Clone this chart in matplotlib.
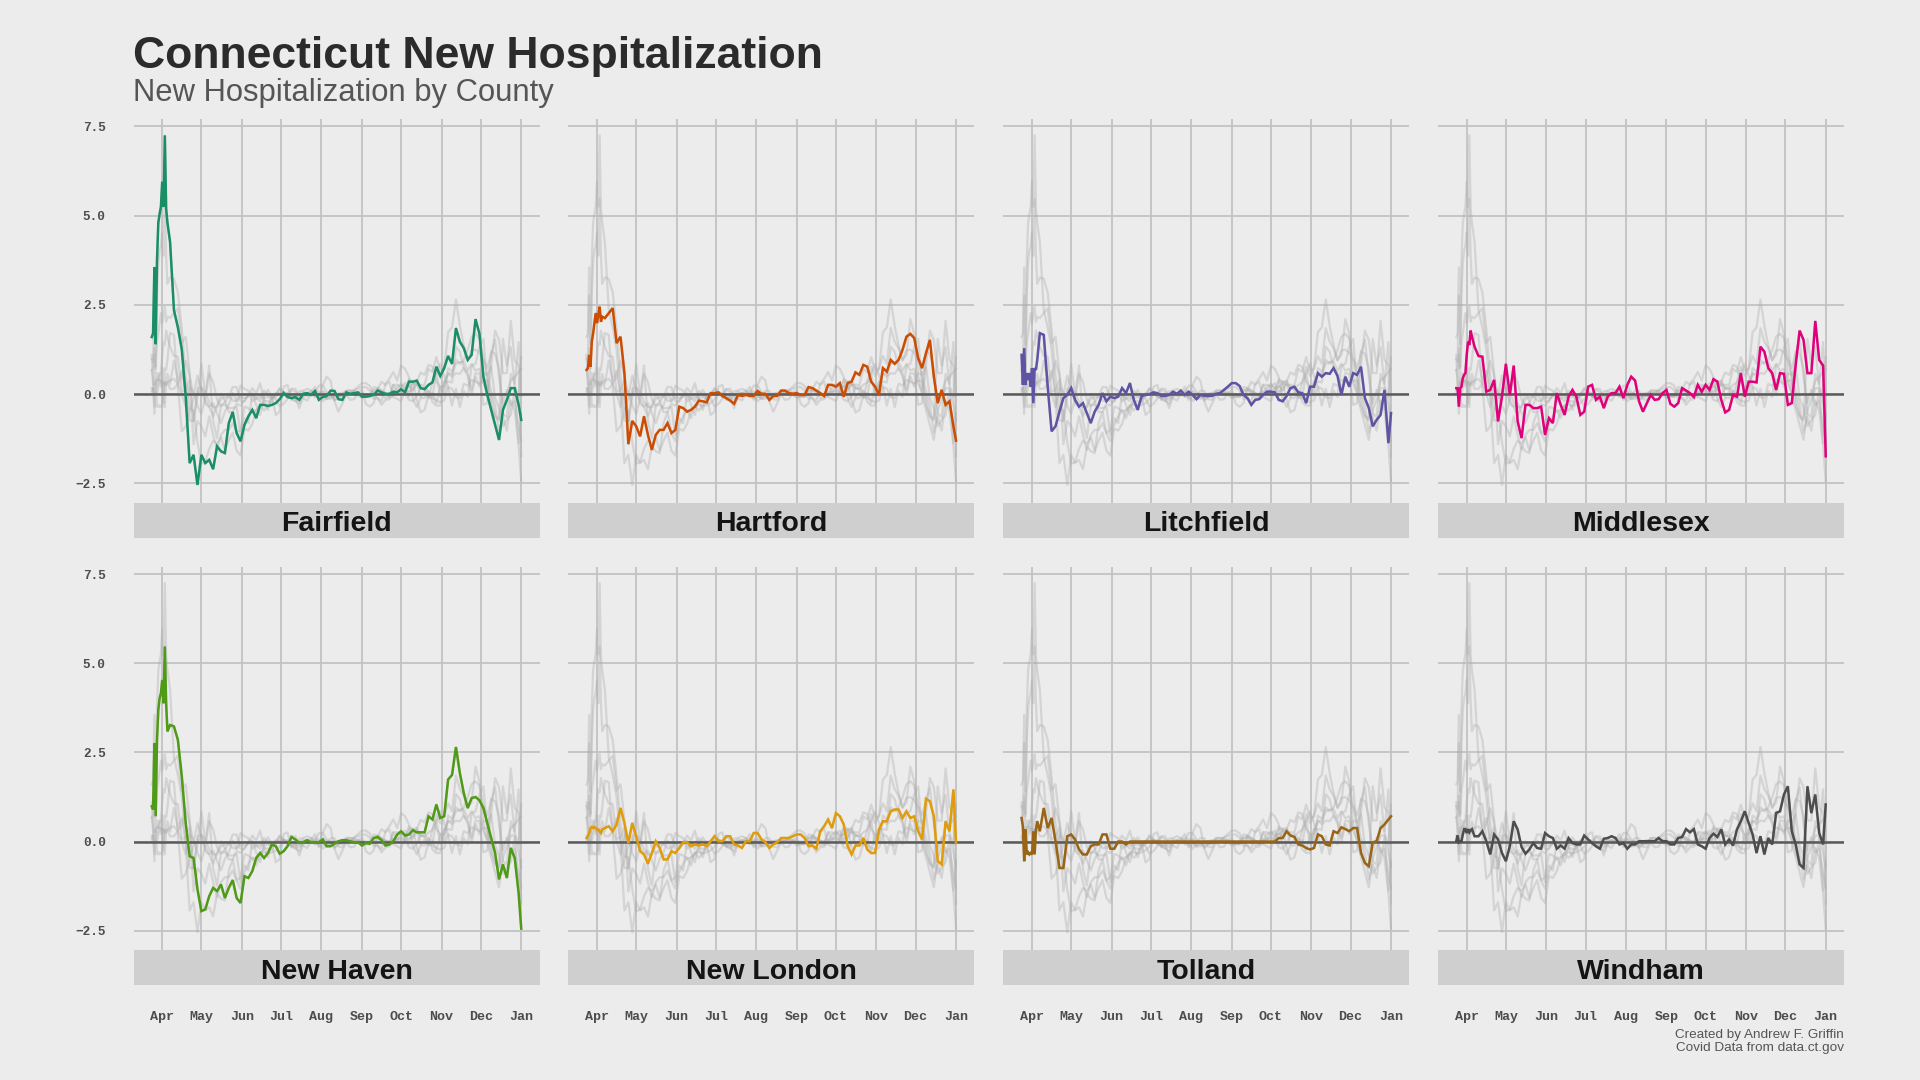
import matplotlib
matplotlib.use("Agg")
import matplotlib.pyplot as plt
import pandas as pd
from matplotlib.patches import Rectangle

days = [0,1,2,3,4,5,6,7,8,9,10,11,12,
        14,17,20,23,26,29,32,35,38,41,
        44,47,50,53,56,59,62,65,68,71,
        74,77,80,83,86,89,92,95,98,101,
        104,107,110,113,116,119,122,125,128,131,
        134,137,140,143,146,149,152,155,158,161,
        164,167,170,173,176,179,182,185,188,191,
        194,197,200,203,206,209,212,215,218,221,
        224,227,230,233,236,239,242,245,248,251,
        254,257,260,263,266,269,272,275,278,281,
        283]

fairfield = [1.6,1.7,3.55,1.4,3.75,4.8,5.05,5.25,5.95,5.25,7.25,5.2,4.8,
    4.27,2.35,1.87,1.25,-0.07,-1.93,-1.7,-2.54,-1.7,-1.93,
    -1.84,-2.1,-1.46,-1.6,-1.65,-0.81,-0.5,-1.09,-1.32,-0.86,
    -0.62,-0.44,-0.67,-0.3,-0.3,-0.33,-0.3,-0.25,-0.14,0.03,
    -0.08,-0.11,-0.08,-0.16,0.01,0.03,-0.02,0.09,-0.16,-0.08,
    -0.05,0.1,0.09,-0.14,-0.16,0.05,0.01,0.03,0.05,-0.07,
    -0.07,-0.05,-0.02,0.1,0.05,0.01,0.01,0.07,0.05,0.14,
    0.05,0.35,0.35,0.38,0.17,0.14,0.26,0.33,0.77,0.51,
    0.73,1.07,0.85,1.85,1.47,1.29,0.96,1.1,2.1,1.69,
    0.5,-0.02,-0.44,-0.86,-1.28,-0.44,-0.16,0.17,0.17,-0.3,
    -0.72]
hartford = [0.68,0.73,1.1,0.77,1.47,1.7,1.99,2.27,1.99,2.22,2.45,2.03,2.17,
    2.13,2.27,2.41,1.43,1.61,0.59,-1.4,-0.75,-0.9,-1.18,
    -0.62,-1.14,-1.56,-1.14,-1.0,-1.0,-0.81,-1.09,-1.0,-0.35,
    -0.39,-0.49,-0.44,-0.35,-0.18,-0.2,-0.23,0.03,0.03,0.05,
    -0.05,-0.11,-0.18,-0.27,-0.02,-0.05,-0.02,-0.05,-0.05,0.09,
    0.01,0.01,-0.16,-0.05,-0.05,0.1,0.1,0.03,0.01,0.03,
    -0.02,-0.02,0.2,0.17,0.1,0.03,-0.05,0.26,0.26,0.21,
    0.31,-0.07,0.31,0.35,0.61,0.54,0.82,0.77,0.35,0.21,
    -0.02,0.73,0.63,0.96,0.85,0.96,1.24,1.61,1.69,1.57,
    1.01,0.73,1.15,1.52,0.49,-0.25,0.12,-0.3,-0.2,-0.9,
    -1.3]
litchfield = [1.1,0.26,1.29,0.26,0.59,0.4,0.59,0.21,0.73,-0.25,0.73,0.68,0.96,
    1.71,1.66,0.21,-1.04,-0.9,-0.49,-0.11,-0.02,0.17,-0.16,
    -0.35,-0.25,-0.53,-0.81,-0.49,-0.3,0.03,-0.2,-0.07,-0.11,
    -0.07,0.17,0.03,0.31,-0.16,-0.44,-0.05,-0.02,0.0,0.05,
    0.03,-0.05,-0.05,-0.02,0.07,0.01,0.1,-0.02,0.07,-0.02,
    -0.14,-0.02,-0.05,-0.05,-0.05,0.01,0.03,0.12,0.21,0.31,
    0.31,0.23,-0.02,-0.11,-0.3,-0.16,-0.14,-0.02,0.07,0.07,
    0.05,-0.16,-0.2,-0.05,0.17,0.21,0.05,0.03,-0.25,0.21,
    0.21,0.59,0.49,0.59,0.57,0.73,0.51,-0.02,0.49,0.21,
    0.59,0.54,0.77,-0.11,-0.39,-0.9,-0.72,-0.58,0.12,-1.37,
    -0.53]
middlesex = [0.17,0.17,-0.35,0.17,0.21,0.45,0.54,0.59,1.1,1.47,1.38,1.78,1.61,
    1.33,1.07,1.05,0.07,0.12,0.4,-0.76,-0.07,0.85,-0.02,
    0.8,-0.76,-1.23,-0.3,-0.3,-0.39,-0.39,-0.35,-1.14,-0.67,
    -0.81,0.03,-0.3,-0.58,-0.07,0.12,-0.07,-0.58,-0.49,0.21,
    0.26,-0.16,-0.07,-0.39,-0.07,0.03,0.03,0.21,-0.11,0.26,
    0.49,0.38,-0.2,-0.49,-0.25,-0.02,-0.16,-0.14,0.03,0.12,
    -0.27,-0.35,-0.25,0.17,0.1,0.03,-0.08,0.26,0.07,0.26,
    0.12,0.42,0.35,-0.16,-0.51,-0.44,-0.02,-0.07,0.59,-0.07,
    0.35,0.35,0.33,1.33,1.19,0.73,0.59,0.12,0.59,0.57,
    -0.3,-0.25,0.82,1.78,1.52,0.59,0.59,2.05,0.96,0.8,
    -1.74]
new_haven = [0.99,0.9,2.76,0.71,2.85,3.69,4.02,4.16,4.53,3.88,5.47,3.88,3.09,
    3.27,3.23,2.85,1.83,0.52,-0.41,-0.46,-1.34,-1.95,-1.9,
    -1.53,-1.3,-1.39,-1.2,-1.58,-1.3,-1.08,-1.58,-1.72,-0.97,
    -1.02,-0.83,-0.46,-0.32,-0.46,-0.32,-0.08,-0.13,-0.34,-0.27,
    -0.13,0.13,0.06,-0.04,-0.02,0.04,-0.02,-0.02,-0.02,0.06,
    -0.13,-0.13,-0.06,0.01,0.04,0.04,0.01,-0.02,-0.02,-0.11,
    -0.04,-0.06,0.1,0.13,0.04,-0.11,-0.08,0.01,0.2,0.29,
    0.17,0.2,0.32,0.26,0.26,0.26,0.71,0.62,1.04,0.66,
    0.71,1.74,1.87,2.65,1.92,1.36,0.94,1.22,1.25,1.16,
    0.94,0.52,0.1,-0.32,-1.06,-0.64,-1.02,-0.18,-0.46,-1.44,
    -2.44]
new_london = [0.1,0.15,0.24,0.38,0.41,0.38,0.41,0.38,0.34,0.34,0.29,0.24,0.34,
    0.38,0.43,0.29,0.48,0.94,0.52,-0.04,0.52,0.15,-0.27,
    -0.36,-0.62,-0.32,0.01,-0.18,-0.5,-0.5,-0.27,-0.32,-0.18,
    -0.02,-0.02,-0.13,-0.08,-0.11,-0.08,-0.13,0.01,0.15,0.01,
    0.01,0.15,0.15,-0.08,-0.11,-0.18,0.01,0.01,0.24,0.24,
    0.06,-0.02,-0.18,-0.08,-0.02,0.1,0.1,0.1,0.15,0.2,
    0.2,0.1,-0.13,-0.11,-0.2,0.29,0.43,0.62,0.38,0.8,
    0.71,0.48,-0.13,-0.36,-0.11,-0.11,0.1,-0.22,-0.32,-0.32,
    0.34,0.57,0.57,0.85,0.9,0.9,0.66,0.85,0.66,0.71,
    0.29,0.06,1.2,1.13,0.71,-0.55,-0.64,0.57,0.29,1.46,
    -0.04]
tolland = [0.66,0.43,-0.55,0.34,-0.36,-0.3,-0.36,-0.32,-0.36,0.29,-0.36,0.34,0.57,
    0.29,0.94,0.38,0.66,0.01,-0.74,-0.74,0.15,0.2,0.06,
    -0.22,-0.36,-0.36,-0.13,-0.08,-0.08,0.2,0.2,-0.2,-0.2,
    0.0,0.0,-0.08,0.0,0.0,0.0,0.0,0.0,0.0,0.0,
    0.0,0.0,0.0,0.0,0.0,0.0,0.0,0.0,0.0,0.0,
    0.0,0.0,0.0,0.0,0.0,0.0,0.0,0.0,0.0,0.0,
    0.0,0.0,0.0,0.0,0.0,0.0,0.0,0.0,0.0,0.0,
    0.0,0.1,0.1,0.29,0.17,0.13,-0.08,-0.11,-0.18,-0.22,
    -0.18,0.2,0.15,-0.08,-0.11,0.29,0.24,0.4,0.35,0.29,
    0.38,0.38,-0.32,-0.6,-0.69,-0.02,0.01,0.38,0.48,0.62,
    0.71]
windham = [0.01,0.17,-0.02,0.01,0.01,0.2,0.35,0.35,0.24,0.35,0.26,0.32,0.35,
    0.15,0.15,0.29,0.01,-0.36,0.2,0.06,-0.32,-0.55,-0.13,
    0.57,0.34,-0.15,-0.34,-0.22,-0.04,-0.18,-0.2,0.24,0.15,
    0.1,-0.2,-0.11,-0.2,0.1,-0.04,-0.08,-0.08,0.17,0.06,
    -0.04,-0.13,-0.2,0.08,0.1,0.15,0.1,-0.08,-0.04,-0.2,
    -0.08,-0.08,0.01,0.01,0.01,0.01,0.01,0.1,0.01,0.01,
    -0.08,-0.08,0.1,0.13,0.35,0.26,0.35,-0.08,-0.13,-0.2,
    0.1,0.22,0.13,0.34,-0.08,0.06,-0.11,0.34,0.57,0.85,
    0.52,0.2,-0.32,0.15,-0.36,0.1,-0.08,0.8,0.85,1.32,
    1.55,0.29,-0.08,-0.64,-0.74,1.55,0.8,1.32,0.24,-0.08,
    1.04]

counties = ["Fairfield", "Hartford", "Litchfield", "Middlesex",
            "New Haven", "New London", "Tolland", "Windham"]
series = [fairfield, hartford, litchfield, middlesex,
          new_haven, new_london, tolland, windham]
colors = ["#1A8F66", "#CC4C02", "#5E54A4", "#E0007A",
          "#4F9A16", "#E09C0A", "#9A6415", "#4D4D4D"]
month_ticks = ["2020-04-01", "2020-05-01", "2020-06-01", "2020-07-01", "2020-08-01",
               "2020-09-01", "2020-10-01", "2020-11-01", "2020-12-01", "2021-01-01"]
month_labels = ["Apr", "May", "Jun", "Jul", "Aug", "Sep", "Oct", "Nov", "Dec", "Jan"]
y_ticks = [-2.5, 0.0, 2.5, 5.0, 7.5]
y_labels = ["\u22122.5", "0.0", "2.5", "5.0", "7.5"]

BG = "#ECECEC"
W, H = 1920, 1080
start = pd.Timestamp("2020-03-24")
dates = [start + pd.Timedelta(days=d) for d in days]
xlim = (pd.Timestamp("2020-03-10"), pd.Timestamp("2021-01-15"))
ticks = [pd.Timestamp(t) for t in month_ticks]

fig = plt.figure(figsize=(19.2, 10.8), dpi=100, facecolor=BG)
lefts = [133.5, 568.3, 1003.3, 1438.0]
pw = 406.0
rows = [(119.3, 502.7, 537.7), (567.0, 950.0, 985.3)]
sans = "Liberation Sans"
mono = "Liberation Mono"

for i, name in enumerate(counties):
    r, c = divmod(i, 4)
    top, bot, sbot = rows[r]
    ax = fig.add_axes([lefts[c] / W, 1 - bot / H, pw / W, (bot - top) / H], facecolor="none")
    for s in ax.spines.values():
        s.set_visible(False)
    ax.set_xlim(*xlim)
    ax.set_ylim(-3.04, 7.70)
    ax.set_xticks(ticks)
    ax.set_yticks(y_ticks)
    ax.grid(True, color="#C2C2C2", lw=1.3, zorder=1)
    ax.set_axisbelow(True)
    for vals in series:
        ax.plot(dates, vals, color="#ABABAB", alpha=0.37, lw=1.6, zorder=2, solid_joinstyle="round")
    ax.axhline(0, color="#5A5A5A", lw=1.8, zorder=3)
    ax.plot(dates, series[i], color=colors[i], lw=1.8, zorder=4, solid_joinstyle="miter")
    ax.tick_params(length=0)
    if r == 1:
        ax.set_xticklabels(month_labels, family=mono, fontweight="bold", fontsize=9.6, color="#4D4D4D")
        ax.tick_params(axis="x", pad=44)
    else:
        ax.set_xticklabels([])
    if c == 0:
        ax.set_yticklabels(y_labels, family=mono, fontweight="bold", fontsize=9.2, color="#4D4D4D")
        ax.tick_params(axis="y", pad=20)
    else:
        ax.set_yticklabels([])
    fig.add_artist(Rectangle((lefts[c] / W, 1 - sbot / H), pw / W, (sbot - bot) / H,
                             transform=fig.transFigure, facecolor="#CFCFCF", edgecolor="none"))
    fig.text((lefts[c] + pw / 2) / W, 1 - ((bot + sbot) / 2 + 4.0) / H, name, ha="center", va="center",
             family=sans, fontweight="bold", fontsize=20.5, color="#141414")

fig.text(133 / W, 1 - 68 / H, "Connecticut New Hospitalization", family=sans, fontweight="bold",
         fontsize=32.05, color="#2B2B2B", ha="left", va="baseline")
fig.text(133 / W, 1 - 101 / H, "New Hospitalization by County", family=sans,
         fontsize=22.3, color="#555555", ha="left", va="baseline")
fig.text(1844 / W, 1 - 1035 / H, "Created by Andrew F. Griffin", family=sans, fontsize=9.7,
         color="#555555", ha="right", va="center")
fig.text(1844 / W, 1 - 1048.5 / H, "Covid Data from data.ct.gov", family=sans, fontsize=9.7,
         color="#555555", ha="right", va="center")

fig.savefig("out.png", dpi=100, facecolor=BG)
